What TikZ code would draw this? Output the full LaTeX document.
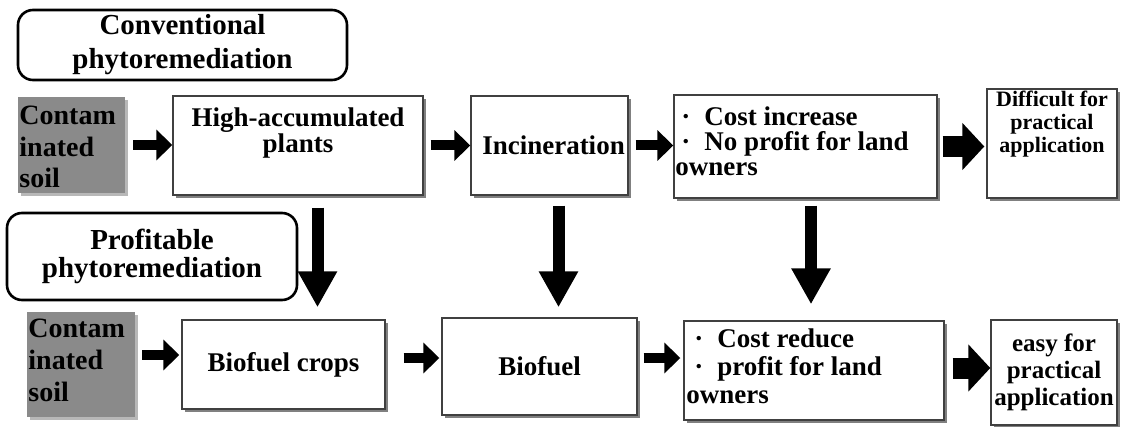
\documentclass[tikz,border=0pt]{standalone}
\usepackage{fontspec}
\setmainfont{Liberation Serif}
\usetikzlibrary{arrows.meta, shadows, positioning}

\begin{document}
\begin{tikzpicture}[x=0.5pt, y=-0.5pt,
    box/.style={draw=black!75, line width=0.7pt, fill=white, inner sep=0pt,
        drop shadow={shadow xshift=1.5pt, shadow yshift=-1.5pt, fill=black!50, opacity=1}},
    soil/.style={fill=black!46, inner sep=0pt,
        drop shadow={shadow xshift=1.5pt, shadow yshift=-1.5pt, fill=black!28, opacity=1}},
    kind/.style={draw=black, line width=1.3pt, rounded corners=7.5pt, inner sep=0pt, align=center},
    txt/.style={inner sep=0pt, font=\fontsize{13.5}{12.5}\selectfont\bfseries},
    arr/.style={line width=5pt, -{Triangle[width=15pt, length=8pt]}},
    bigarr/.style={line width=10.5pt, -{Triangle[width=23pt, length=11pt]}},
    downarr/.style={line width=6pt, -{Triangle[width=18.5pt, length=18pt]}}]
    \useasboundingbox (0,0) rectangle (1138,427);

    % conventional route
    \node[kind, minimum width=164.5pt, minimum height=35pt, font=\fontsize{14.5}{17}\selectfont\bfseries]
        (conv) at (182.5,45) {Conventional\\phytoremediation};
    \node[soil, minimum width=53.5pt, minimum height=48pt] (soilA) at (71.5,145) {};
    \node[txt, anchor=north west, align=left, font=\fontsize{14}{15.75}\selectfont\bfseries]
        (soilAt) at (19,106) {Contam\\inated\\soil};
    \node[box, minimum width=125pt, minimum height=49.5pt] (hap) at (298,145.5) {};
    \node[txt, anchor=north, align=center, font=\fontsize{13.5}{12}\selectfont\bfseries]
        (hapt) at (298,107) {High-accumulated\\plants};
    \node[box, minimum width=78.5pt, minimum height=49.5pt, txt] (incin) at (549.5,145.5) {\hspace*{4pt}Incineration};
    \node[box, minimum width=131.5pt, minimum height=51.5pt] (costinc) at (805.5,146.5) {};
    \node[txt, anchor=north west, align=left] (costinct) at (675,106)
        {\hspace*{3pt}·\hspace{7pt}Cost increase\\\hspace*{3pt}·\hspace{7pt}No profit for land\\owners};
    \node[box, minimum width=65pt, minimum height=54.5pt] (diff) at (1052,143.5) {};
    \node[txt, anchor=north, align=center, font=\fontsize{11}{11.5}\selectfont\bfseries]
        (difft) at (1052,91) {Difficult for\\practical\\application};

    % profitable route
    \node[kind, minimum width=145pt, minimum height=43.5pt, font=\fontsize{14.5}{14}\selectfont\bfseries]
        (prof) at (152,256.5) {Profitable\\phytoremediation};
    \node[soil, minimum width=54pt, minimum height=52.5pt] (soilB) at (81,364.5) {};
    \node[txt, anchor=north west, align=left, font=\fontsize{14}{16}\selectfont\bfseries]
        (soilBt) at (28,319) {Contam\\inated\\soil};
    \node[box, minimum width=101.5pt, minimum height=44.5pt, txt] (crops) at (283.5,364.5) {Biofuel crops};
    \node[box, minimum width=97.5pt, minimum height=48.5pt, txt] (biofuel) at (539.5,366.5) {Biofuel};
    \node[box, minimum width=130pt, minimum height=49.5pt] (costred) at (814,370.5) {};
    \node[txt, anchor=north west, align=left, font=\fontsize{13.5}{14}\selectfont\bfseries] (costredt) at (686,328)
        {\hspace*{4pt}·\hspace{7pt}Cost reduce\\\hspace*{4pt}·\hspace{7pt}profit for land\\owners};
    \node[box, minimum width=63pt, minimum height=52.5pt, align=center, font=\fontsize{12.5}{13.5}\selectfont\bfseries]
        (easy) at (1054,372.5) {easy for\\practical\\application};

    % arrows along the rows
    \draw[arr, shorten <=4pt] (soilA.east) -- (soilA.east -| hap.west);
    \draw[arr, shorten <=3.5pt] (hap.east) -- (hap.east -| incin.west);
    \draw[arr, shorten <=3.5pt] (incin.east) -- (incin.east -| costinc.west);
    \draw[bigarr, shorten <=2.5pt, shorten >=1pt] (costinc.east) -- (costinc.east -| diff.west);
    \draw[arr, shorten <=3.5pt, shorten >=1pt] ([yshift=4.75pt]soilB.east) -- ([yshift=4.75pt]soilB.east -| crops.west);
    \draw[arr, shorten <=9pt, shorten >=1pt] ([yshift=3.25pt]crops.east) -- ([yshift=3.25pt]crops.east -| biofuel.west);
    \draw[arr, shorten <=3pt, shorten >=1.5pt] ([yshift=4.25pt]biofuel.east) -- ([yshift=4.25pt]biofuel.east -| costred.west);
    \draw[bigarr, shorten <=4pt] ([yshift=1.25pt]costred.east) -- ([yshift=1.25pt]costred.east -| easy.west);

    % arrows between the rows
    \draw[downarr, shorten <=6pt, shorten >=6pt] ([xshift=9.75pt]hap.south) coordinate (d1) -- (d1 |- crops.north);
    \draw[downarr, shorten <=5pt, shorten >=5pt] ([xshift=4.5pt]incin.south) coordinate (d2) -- (d2 |- biofuel.north);
    \draw[downarr, shorten <=3.5pt, shorten >=8pt] ([xshift=2.75pt]costinc.south) coordinate (d3) -- (d3 |- costred.north);
\end{tikzpicture}
\end{document}
